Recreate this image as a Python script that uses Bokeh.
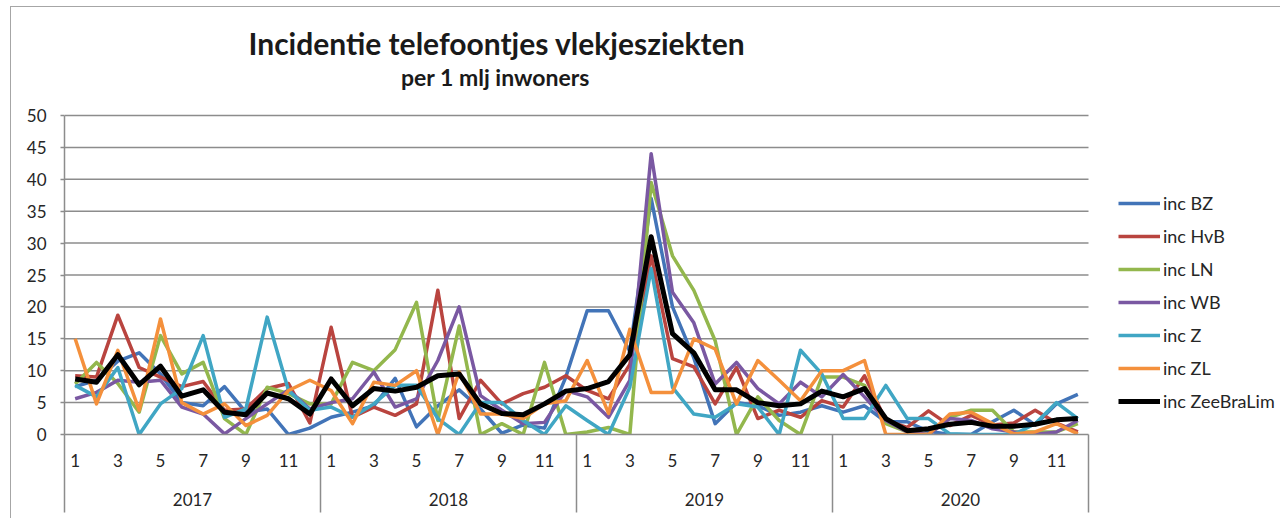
from bokeh.plotting import figure
from bokeh.models import (Range1d, LinearAxis, FixedTicker, Legend, LegendItem,
                          Label, ColumnDataSource)
from bokeh.embed import file_html
from bokeh.resources import INLINE

# ---------------- data ----------------
years = ["2017", "2018", "2019", "2020"]
months = list(range(1, 13))
shown_months = [1, 3, 5, 7, 9, 11]

series_names = ["inc BZ", "inc HvB", "inc LN", "inc WB", "inc Z", "inc ZL", "inc ZeeBraLim"]

inc_bz = [7.5, 8.5, 11.5, 12.8, 9.5, 5.0, 4.5, 7.5, 3.5, 4.0, 0.0, 1.0,
          2.7, 3.5, 4.5, 8.8, 1.2, 4.5, 7.0, 4.0, 0.2, 1.5, 1.0, 9.0,
          19.4, 19.4, 13.0, 37.0, 20.0, 12.0, 1.7, 5.0, 4.5, 3.0, 3.5, 4.5,
          3.5, 4.5, 2.0, 2.0, 0.5, 0.0, 0.0, 2.0, 3.8, 1.5, 4.8, 6.3]

inc_hvb = [9.2, 9.0, 18.7, 10.5, 9.0, 7.5, 8.3, 3.8, 4.0, 7.2, 8.0, 1.8,
           16.8, 2.7, 4.3, 3.0, 4.8, 22.6, 2.5, 8.5, 4.8, 6.4, 7.4, 9.2,
           6.9, 5.6, 11.0, 28.0, 11.9, 10.6, 4.8, 10.5, 2.5, 3.8, 2.7, 5.3,
           4.3, 9.2, 2.2, 1.1, 3.7, 1.4, 3.0, 1.5, 1.8, 3.8, 1.8, 0.4]

inc_ln = [7.9, 11.3, 8.0, 3.5, 15.5, 9.5, 11.3, 2.5, 0.0, 7.4, 6.4, 4.8,
          4.8, 11.3, 10.0, 13.3, 20.7, 2.2, 17.0, 0.0, 1.7, 0.0, 11.3, 0.0,
          0.4, 1.1, 0.0, 39.5, 28.0, 22.6, 14.7, 0.0, 5.9, 2.2, 0.0, 9.0,
          9.0, 7.7, 1.7, 0.4, 0.0, 2.7, 3.8, 3.8, 0.4, 0.4, 0.4, 1.7]

inc_wb = [5.6, 6.6, 8.5, 8.2, 8.5, 4.3, 3.2, 0.1, 2.5, 4.8, 7.0, 4.0,
          5.0, 5.6, 9.8, 4.3, 5.6, 11.6, 20.0, 6.1, 3.8, 1.7, 1.9, 6.9,
          5.9, 2.7, 8.5, 44.0, 22.3, 17.5, 7.9, 11.3, 7.2, 4.8, 8.2, 5.9,
          9.4, 5.9, 2.2, 0.4, 0.0, 2.5, 2.2, 0.9, 0.4, 0.0, 0.4, 2.2]

inc_z = [7.7, 5.9, 10.5, 0.0, 4.8, 7.2, 15.5, 2.7, 4.0, 18.4, 6.9, 3.8,
         4.3, 2.7, 4.8, 7.7, 7.7, 2.5, 0.0, 5.0, 5.0, 2.2, 0.0, 4.5,
         2.2, 0.0, 7.4, 26.0, 7.4, 3.2, 2.7, 4.8, 4.3, 0.0, 13.2, 9.5,
         2.5, 2.5, 7.7, 2.5, 2.5, 0.1, 0.0, 0.0, 0.0, 1.7, 5.0, 2.5]

inc_zl = [15.0, 4.8, 13.2, 3.8, 18.1, 5.0, 3.2, 4.8, 1.4, 3.0, 6.9, 8.5,
          6.9, 1.7, 8.2, 7.7, 10.0, 0.0, 9.8, 3.2, 3.2, 2.5, 4.8, 5.3,
          11.6, 3.3, 16.5, 6.6, 6.6, 15.0, 13.4, 4.8, 11.6, 8.5, 5.3, 10.0,
          10.0, 11.6, 0.0, 0.0, 0.0, 3.2, 3.5, 1.7, 0.1, 0.4, 1.7, 0.1]

inc_zeebralim = [8.7, 8.2, 12.5, 7.8, 10.7, 6.0, 7.0, 3.5, 3.1, 6.5, 5.6, 3.2,
                 8.7, 4.5, 7.2, 6.8, 7.4, 9.2, 9.5, 4.8, 3.3, 3.1, 4.8, 6.8,
                 7.2, 8.3, 12.5, 31.0, 15.8, 12.8, 7.0, 7.0, 5.0, 4.5, 4.8, 6.8,
                 5.9, 7.2, 2.5, 0.6, 0.9, 1.6, 1.9, 1.3, 1.3, 1.6, 2.3, 2.5]

y_ticks = list(range(0, 51, 5))
title_text = "Incidentie telefoontjes vlekjesziekten"
subtitle_text = "per 1 mlj inwoners"

# ---------------- layout (pixels) ----------------
FIG_W, FIG_H = 1270, 512           # figure placed at page (11, 7)
PLOT_W, PLOT_H = 1024, 319         # pixel size of the 48-month x 0..50 area
LEFT, BOTTOM = 53, 85              # borders left / bottom
FRAME_W = FIG_W - LEFT
FRAME_H = FIG_H - BOTTOM

FONT = "Lato"
TXT = "#262626"
GRID = "#8c8c8c"
colors = ["#4274B8", "#B9443F", "#93B74D", "#7A58A2", "#40A6C4", "#F4903C", "#000000"]
widths = [3.5, 3.5, 3.5, 3.5, 3.5, 3.5, 5]

n = len(years) * len(months)
ymax = y_ticks[-1]
x_end = n * FRAME_W / PLOT_W
y_end = ymax * FRAME_H / PLOT_H

x = [i + 0.5 for i in range(n)]
src = ColumnDataSource(dict(x=x, bz=inc_bz, hvb=inc_hvb, ln=inc_ln, wb=inc_wb,
                            z=inc_z, zl=inc_zl, zbl=inc_zeebralim))
cols = ["bz", "hvb", "ln", "wb", "z", "zl", "zbl"]

p = figure(width=FIG_W, height=FIG_H, output_backend="svg", toolbar_location=None,
           x_range=Range1d(0, x_end), y_range=Range1d(0, y_end),
           x_axis_location=None, y_axis_location=None,
           min_border_left=LEFT, min_border_right=0,
           min_border_top=0, min_border_bottom=BOTTOM)
p.outline_line_color = None
p.xgrid.visible = False
p.ygrid.visible = False
p.background_fill_color = "white"
p.border_fill_color = "white"
p.styles = {"margin-left": "11px", "margin-top": "7px",
            "box-shadow": "-1px -1px 0 0 #a6a6a6"}

# horizontal gridlines over the 48 months only
gsrc = ColumnDataSource(dict(x0=[0] * (len(y_ticks) - 1), x1=[n] * (len(y_ticks) - 1),
                             y=y_ticks[1:]))
p.segment(x0="x0", y0="y", x1="x1", y1="y", source=gsrc,
          line_color=GRID, line_width=1.5)

# y axis
yaxis = LinearAxis(ticker=FixedTicker(ticks=y_ticks), bounds=(0, ymax),
                   axis_line_color=GRID, axis_line_width=1.5,
                   major_tick_line_color=GRID, major_tick_line_width=1.5,
                   major_tick_out=4, major_tick_in=0, minor_tick_out=0, minor_tick_in=0,
                   major_label_standoff=14,
                   major_label_text_font=FONT, major_label_text_font_size="17px",
                   major_label_text_color=TXT)
p.add_layout(yaxis, "left")

# month axis
month_ticks = []
month_over = {}
for yi in range(len(years)):
    for m in shown_months:
        t = yi * 12 + m - 0.5
        month_ticks.append(t)
        month_over[t] = str(m)
month_axis = LinearAxis(ticker=FixedTicker(ticks=month_ticks), major_label_overrides=month_over,
                        bounds=(0, n),
                        axis_line_color=GRID, axis_line_width=1.5,
                        major_tick_out=0, major_tick_in=0, minor_tick_out=0, minor_tick_in=0,
                        major_label_standoff=19,
                        major_label_text_font=FONT, major_label_text_font_size="17px",
                        major_label_text_color=TXT)
p.add_layout(month_axis, "below")

# year axis with group separators
year_ticks = [yi * 12 + 6 for yi in range(len(years))]
year_over = {t: yr for t, yr in zip(year_ticks, years)}
sep_ticks = [yi * 12 for yi in range(len(years) + 1)]
year_axis = LinearAxis(ticker=FixedTicker(ticks=year_ticks, minor_ticks=sep_ticks),
                       major_label_overrides=year_over,
                       axis_line_color=None,
                       major_tick_out=0, major_tick_in=0,
                       minor_tick_in=35, minor_tick_out=43,
                       minor_tick_line_color=GRID, minor_tick_line_width=1.5,
                       major_label_standoff=-20,
                       major_label_text_font=FONT, major_label_text_font_size="17px",
                       major_label_text_color=TXT)
p.add_layout(year_axis, "below")

# lines
items = []
for name, c, col, w in zip(series_names, colors, cols, widths):
    r = p.line("x", col, source=src, line_color=c, line_width=w, line_join="round")
    items.append(LegendItem(label=name, renderers=[r]))

legend = Legend(items=items, location=(1054, 22), padding=0, margin=0,
                glyph_width=42, glyph_height=20, label_height=20, spacing=11,
                label_standoff=3, border_line_color=None, background_fill_alpha=0,
                label_text_font=FONT, label_text_font_size="18px", label_text_color=TXT)
p.add_layout(legend, "center")

# titles (placed in the upper part of the frame, above the 0..50 area)
p.add_layout(Label(x=20.27, y=61.3, text=title_text,
                   text_align="center", text_baseline="middle", text_font=FONT,
                   text_font_size="30px", text_font_style="bold", text_color="#1a1a1a"))
p.add_layout(Label(x=20.2, y=56.1, text=subtitle_text,
                   text_align="center", text_baseline="middle", text_font=FONT,
                   text_font_size="23px", text_font_style="bold", text_color="#1a1a1a"))

open("out.html", "w").write(file_html(p, INLINE))
